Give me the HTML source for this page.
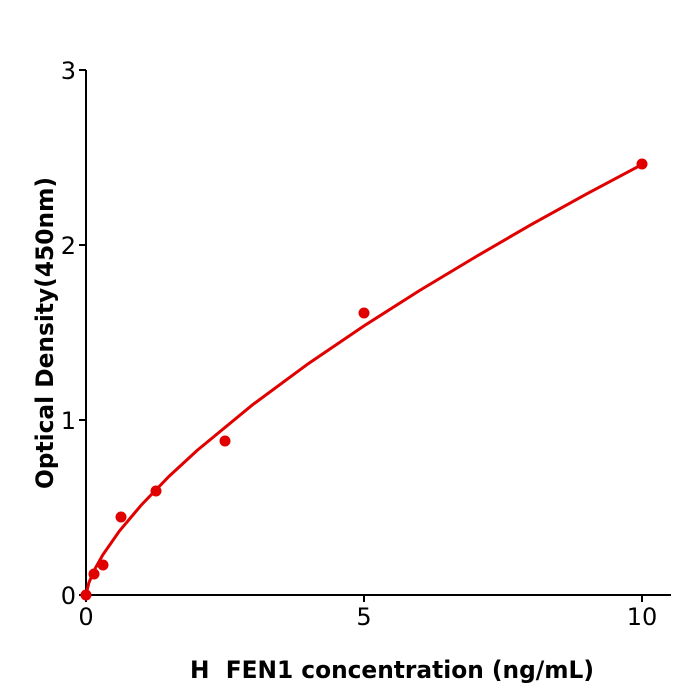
<!DOCTYPE html>
<html><head><style>body{margin:0;background:#fff}svg{display:block}</style></head><body>
<svg width="700" height="700" xmlns="http://www.w3.org/2000/svg" font-family="'DejaVu Sans','Liberation Sans',sans-serif">
<g stroke="#000" stroke-width="2" fill="none">
<line x1="86" y1="70" x2="86" y2="596"/>
<line x1="85" y1="595" x2="671" y2="595"/>
<line x1="79" y1="70" x2="86" y2="70"/>
<line x1="79" y1="245" x2="86" y2="245"/>
<line x1="79" y1="420" x2="86" y2="420"/>
<line x1="79" y1="595" x2="86" y2="595"/>
<line x1="86" y1="595" x2="86" y2="602"/>
<line x1="364" y1="595" x2="364" y2="602"/>
<line x1="642" y1="595" x2="642" y2="602"/>
</g>
<g font-size="24" fill="#000" text-anchor="end">
<text x="76" y="79">3</text>
<text x="76" y="254">2</text>
<text x="76" y="429">1</text>
<text x="76" y="604">0</text>
</g>
<g font-size="24" fill="#000" text-anchor="middle">
<text x="86" y="625">0</text>
<text x="364" y="625">5</text>
<text x="642" y="625">10</text>
</g>
<text x="190" y="678" font-size="24" font-weight="bold" textLength="404" lengthAdjust="spacingAndGlyphs">H&#160; FEN1 concentration (ng/mL)</text>
<text transform="translate(53,489) rotate(-90)" font-size="24" font-weight="bold" textLength="312" lengthAdjust="spacingAndGlyphs">Optical Density(450nm)</text>
<polyline fill="none" stroke="#e00000" stroke-width="3" points="86,595 88.8,583 94.3,570 102.7,555 119.4,531 141.6,504.7 169.4,476 197.2,450.4 252.8,404.6 308.4,363.6 364,325.9 419.6,290.5 475.2,257.1 530.8,224.8 586.4,194.1 642,164.5"/>
<g fill="#e00000">
<circle cx="86" cy="595" r="5.5"/>
<circle cx="94" cy="574" r="5.5"/>
<circle cx="103" cy="565" r="5.5"/>
<circle cx="121" cy="517" r="5.5"/>
<circle cx="156" cy="491" r="5.5"/>
<circle cx="225" cy="441" r="5.5"/>
<circle cx="364" cy="313" r="5.5"/>
<circle cx="642" cy="164" r="5.5"/>
</g>
</svg>
</body></html>
